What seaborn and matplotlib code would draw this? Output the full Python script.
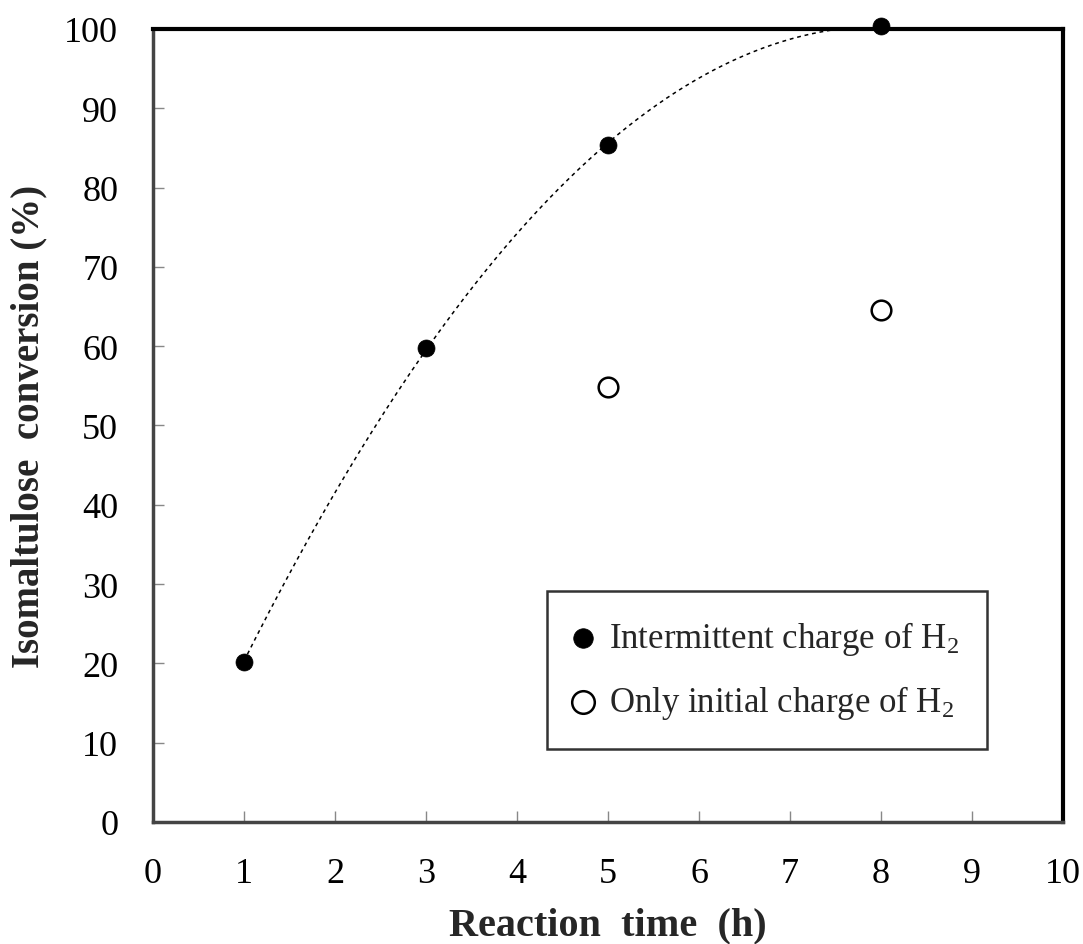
import numpy as np
import pandas as pd
import matplotlib
matplotlib.use("Agg")
import matplotlib.pyplot as plt
import seaborn as sns

# Data
time_intermittent = [1, 3, 5, 8]
conv_intermittent = [20.2, 59.8, 85.4, 100.4]
time_initial = [5, 8]
conv_initial = [54.9, 64.6]
x_ticks = list(range(0, 11))
y_ticks = list(range(0, 101, 10))
label_intermittent = "Intermittent charge of H$_2$"
label_initial = "Only initial charge of H$_2$"

sns.set_theme(style="white")
plt.rcParams['font.family'] = ['Liberation Serif', 'DejaVu Serif']
plt.rcParams['mathtext.fontset'] = 'custom'
plt.rcParams['mathtext.rm'] = 'Liberation Serif'
plt.rcParams['mathtext.it'] = 'Liberation Serif:italic'

fig = plt.figure(figsize=(10.83, 9.45), dpi=100)
ax = fig.add_axes([153/1083, 122/945, (1063-153)/1083, (823-30)/945])

# trend line (quadratic fit)
coef = np.polyfit(time_intermittent, conv_intermittent, 2)
xs = np.linspace(min(time_intermittent), max(time_intermittent), 200)
fit_df = pd.DataFrame({"x": xs, "y": np.polyval(coef, xs)})
sns.lineplot(data=fit_df, x="x", y="y", ax=ax, color="black", lw=1.1,
             linestyle=(0, (2.5, 2.5)), zorder=2)

df1 = pd.DataFrame({"t": time_intermittent, "c": conv_intermittent})
df2 = pd.DataFrame({"t": time_initial, "c": conv_initial})
sns.scatterplot(data=df1, x="t", y="c", ax=ax, s=150, color="black",
                edgecolor="black", linewidth=0.5, label=label_intermittent,
                zorder=4, clip_on=False)
sns.scatterplot(data=df2, x="t", y="c", ax=ax, s=200, facecolor="white",
                edgecolor="black", linewidth=1.8, label=label_initial,
                zorder=4, clip_on=False)

ax.set_xlim(0, 10)
ax.set_ylim(0, 100)
ax.set_xticks(x_ticks)
ax.set_yticks(y_ticks)
ax.tick_params(direction="in", length=8, width=1, colors="#888888",
               labelcolor="black", labelsize=26, pad=25,
               bottom=True, left=True, top=False, right=False)

for side in ["left", "bottom"]:
    ax.spines[side].set_color("#444444")
    ax.spines[side].set_linewidth(2.5)
for side in ["top", "right"]:
    ax.spines[side].set_color("black")
    ax.spines[side].set_linewidth(3)

ax.set_xlabel("Reaction  time  (h)", fontsize=29, fontweight="bold", labelpad=12)
ax.set_ylabel("Isomaltulose  conversion (%)", fontsize=28, fontweight="bold", labelpad=12)

leg = ax.legend(loc="lower right", bbox_to_anchor=((987-153)/910, (823-750)/793),
                frameon=True, fancybox=False, fontsize=25, handletextpad=0.5,
                borderpad=0.8, labelspacing=0.75, handlelength=0.5,
                borderaxespad=0, markerscale=1.15)
leg.get_frame().set_edgecolor("black")
leg.get_frame().set_linewidth(1.8)

fig.savefig("out.png", dpi=100)
